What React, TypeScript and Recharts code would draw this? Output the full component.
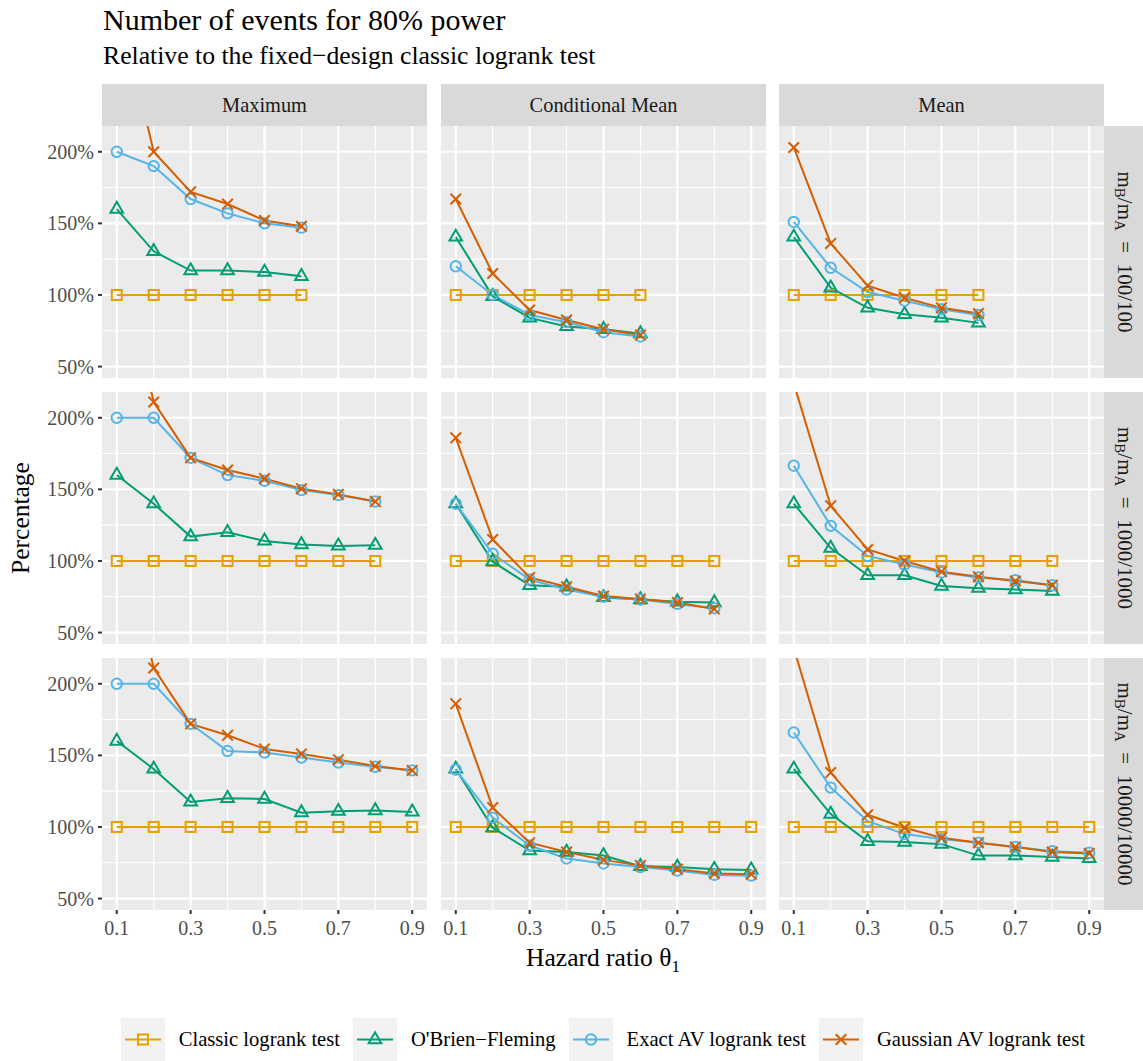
import React from 'react';
import { LineChart, Line, XAxis, YAxis, CartesianGrid } from 'recharts';

// ---------- data ----------
const hazardRatios = [0.1, 0.2, 0.3, 0.4, 0.5, 0.6, 0.7, 0.8, 0.9];
const xTicks = [0.1, 0.3, 0.5, 0.7, 0.9];
const xMinorTicks = [0.2, 0.4, 0.6, 0.8];
const yTicks = [50, 100, 150, 200];
const yMinorTicks = [75, 125, 175];
const columnLabels = ['Maximum', 'Conditional Mean', 'Mean'];
const rowRatios = ['100/100', '1000/1000', '10000/10000'];
const seriesNames = ['Classic logrank test', "O'Brien\u2212Fleming", 'Exact AV logrank test', 'Gaussian AV logrank test'];

// m_B/m_A = 100/100
const max100Classic = [100, 100, 100, 100, 100, 100];
const max100OBF = [160, 130.5, 117, 117, 116, 113];
const max100Exact = [200, 190, 167, 157, 150, 147];
const max100Gauss = [309, 200, 172, 163.5, 152, 148];

const cm100Classic = [100, 100, 100, 100, 100, 100];
const cm100OBF = [140.5, 99, 84, 78, 76, 73];
const cm100Exact = [120, 100, 86, 81, 74, 71];
const cm100Gauss = [167, 115, 89.5, 82.5, 76, 72];

const mean100Classic = [100, 100, 100, 100, 100, 100];
const mean100OBF = [140.5, 105, 91, 86.5, 84, 80.5];
const mean100Exact = [151, 119, 102, 96, 90, 86];
const mean100Gauss = [203, 136, 106.5, 98, 91, 87];

// m_B/m_A = 1000/1000
const max1000Classic = [100, 100, 100, 100, 100, 100, 100, 100];
const max1000OBF = [160, 140, 117, 120, 114, 111.5, 110.5, 111];
const max1000Exact = [200, 200, 172, 160, 156, 149.5, 146, 141.5];
const max1000Gauss = [320, 211, 172, 163.5, 157.5, 150.5, 146.5, 141.5];

const cm1000Classic = [100, 100, 100, 100, 100, 100, 100, 100];
const cm1000OBF = [140, 99.5, 83, 82, 74.5, 73, 71.5, 71];
const cm1000Exact = [140, 105, 87, 80, 75, 73, 70, 67];
const cm1000Gauss = [186, 115, 88.5, 82, 75.5, 73.5, 71, 66.5];

const mean1000Classic = [100, 100, 100, 100, 100, 100, 100, 100];
const mean1000OBF = [140, 109, 90, 90, 82.5, 81, 80, 79];
const mean1000Exact = [166.5, 124.5, 103.5, 97.5, 92, 88.5, 86.5, 83];
const mean1000Gauss = [224, 138.5, 108, 100, 92.5, 89, 86, 83];

// m_B/m_A = 10000/10000
const max10000Classic = [100, 100, 100, 100, 100, 100, 100, 100, 100];
const max10000OBF = [160, 140.5, 117.5, 120, 119.5, 110, 111, 111.5, 110.5];
const max10000Exact = [200, 200, 172, 153, 152, 148.5, 145, 142, 139.5];
const max10000Gauss = [320, 211, 172, 164, 154.5, 151, 147, 142.5, 139.5];

const cm10000Classic = [100, 100, 100, 100, 100, 100, 100, 100, 100];
const cm10000OBF = [140.5, 99.5, 83.5, 82.5, 80, 72.5, 72, 70.5, 70];
const cm10000Exact = [140, 106.5, 87, 78, 74.5, 72, 69.5, 66.5, 66];
const cm10000Gauss = [186, 113.5, 89, 82.5, 77, 73, 70.5, 67.5, 67];

const mean10000Classic = [100, 100, 100, 100, 100, 100, 100, 100, 100];
const mean10000OBF = [140.5, 109, 90, 89.5, 88, 80, 80, 79, 78];
const mean10000Exact = [166, 127.5, 104, 95, 91.5, 89, 86, 83, 82];
const mean10000Gauss = [225, 138, 108.5, 99.5, 92.5, 89, 86, 82.5, 81.5];

const panelSeries = [
  [
    [max100Classic, max100OBF, max100Exact, max100Gauss],
    [cm100Classic, cm100OBF, cm100Exact, cm100Gauss],
    [mean100Classic, mean100OBF, mean100Exact, mean100Gauss],
  ],
  [
    [max1000Classic, max1000OBF, max1000Exact, max1000Gauss],
    [cm1000Classic, cm1000OBF, cm1000Exact, cm1000Gauss],
    [mean1000Classic, mean1000OBF, mean1000Exact, mean1000Gauss],
  ],
  [
    [max10000Classic, max10000OBF, max10000Exact, max10000Gauss],
    [cm10000Classic, cm10000OBF, cm10000Exact, cm10000Gauss],
    [mean10000Classic, mean10000OBF, mean10000Exact, mean10000Gauss],
  ],
];

// ---------- styling ----------
const FONT = "'Liberation Serif', 'Times New Roman', serif";
const SERIES_KEYS = ['classic', 'obf', 'exact', 'gauss'];
const SERIES_COLORS = ['#E69F00', '#009E73', '#56B4E9', '#D55E00'];
const SERIES_SHAPES = ['square', 'triangle', 'circle', 'cross'];
const Y_DOMAIN = [42, 218];
const X_DOMAIN = [0.06, 0.94];
const PANEL_X = [102, 441, 779];
const PANEL_Y = [126, 392, 658];
const PW = 325;
const PH = 252;
const Y_AXIS_W = 60;
const X_AXIS_H = 44;
const STRIP_TOP = 84;
const STRIP_RIGHT_X = 1104;

function marker(kind: string, cx: number, cy: number, color: string, key: string) {
  const sw = 2;
  if (kind === 'square') {
    return <rect key={key} x={cx - 5} y={cy - 5} width={10} height={10} fill="none" stroke={color} strokeWidth={sw} />;
  }
  if (kind === 'triangle') {
    const R = 7.3;
    const hw = R * 0.866;
    return (
      <polygon
        key={key}
        points={`${cx},${cy - R} ${cx - hw},${cy + R / 2} ${cx + hw},${cy + R / 2}`}
        fill="none"
        stroke={color}
        strokeWidth={sw}
      />
    );
  }
  if (kind === 'circle') {
    return <circle key={key} cx={cx} cy={cy} r={5.2} fill="none" stroke={color} strokeWidth={sw} />;
  }
  const h = 5.3;
  return (
    <g key={key}>
      <line x1={cx - h} y1={cy - h} x2={cx + h} y2={cy + h} stroke={color} strokeWidth={sw} />
      <line x1={cx - h} y1={cy + h} x2={cx + h} y2={cy - h} stroke={color} strokeWidth={sw} />
    </g>
  );
}

const makeDot = (kind: string, color: string) => (props: any) => {
  const { cx, cy, value, index } = props;
  const k = `dot-${index}`;
  if (cx == null || cy == null || value == null || value > Y_DOMAIN[1] || value < Y_DOMAIN[0]) {
    return <g key={k} />;
  }
  return marker(kind, cx, cy, color, k);
};

function Panel({ r, c }: { r: number; c: number }) {
  const series = panelSeries[r][c];
  const n = series[0].length;
  const data = hazardRatios.slice(0, n).map((x, i) => {
    const row: any = { x };
    SERIES_KEYS.forEach((k, s) => {
      row[k] = series[s][i];
    });
    return row;
  });
  const showY = c === 0;
  const showX = r === 2;
  const w = PW + (showY ? Y_AXIS_W : 0);
  const h = PH + (showX ? X_AXIS_H : 0);
  const tickStyle = { fill: '#4D4D4D', fontSize: 20, fontFamily: FONT };
  return (
    <div style={{ position: 'absolute', left: PANEL_X[c] - (showY ? Y_AXIS_W : 0), top: PANEL_Y[r], width: w, height: h }}>
      <LineChart width={w} height={h} data={data} margin={{ top: 0, right: 0, bottom: 0, left: 0 }}>
        <CartesianGrid
          fill="#EBEBEB"
          fillOpacity={1}
          stroke="#FFFFFF"
          strokeWidth={1.1}
          horizontalValues={yMinorTicks}
          verticalValues={xMinorTicks}
        />
        <CartesianGrid
          fill="none"
          stroke="#FFFFFF"
          strokeWidth={2.2}
          horizontalValues={yTicks}
          verticalValues={xTicks}
        />
        <XAxis
          dataKey="x"
          type="number"
          domain={X_DOMAIN}
          ticks={xTicks}
          interval={0}
          allowDataOverflow
          hide={!showX}
          height={X_AXIS_H}
          axisLine={false}
          tickSize={4}
          tickMargin={7}
          tick={tickStyle}
          tickLine={{ stroke: '#333333', strokeWidth: 2 }}
          tickFormatter={(v: number) => v.toFixed(1)}
        />
        <YAxis
          type="number"
          domain={Y_DOMAIN}
          ticks={yTicks}
          interval={0}
          allowDataOverflow
          hide={!showY}
          width={Y_AXIS_W}
          axisLine={false}
          tickSize={4}
          tickMargin={4}
          tick={tickStyle}
          tickLine={{ stroke: '#333333', strokeWidth: 2 }}
          tickFormatter={(v: number) => `${v}%`}
        />
        {SERIES_KEYS.map((k, s) => (
          <Line
            key={k}
            dataKey={k}
            name={seriesNames[s]}
            type="linear"
            stroke={SERIES_COLORS[s]}
            strokeWidth={2}
            dot={makeDot(SERIES_SHAPES[s], SERIES_COLORS[s])}
            activeDot={false}
            isAnimationActive={false}
          />
        ))}
      </LineChart>
    </div>
  );
}

function Decorations() {
  return (
    <svg width={1143} height={1061} style={{ position: 'absolute', left: 0, top: 0, fontFamily: FONT }}>
      <rect x={0} y={0} width={1143} height={1061} fill="#FFFFFF" />
      <text x={103} y={30} fontSize={30} fontFamily={FONT} fill="#000000">Number of events for 80% power</text>
      <text x={103} y={64} fontSize={25.7} fontFamily={FONT} fill="#000000">Relative to the fixed{'\u2212'}design classic logrank test</text>
      {columnLabels.map((lab, c) => (
        <g key={lab}>
          <rect x={PANEL_X[c]} y={STRIP_TOP} width={PW} height={PANEL_Y[0] - STRIP_TOP} fill="#D9D9D9" />
          <text
            x={PANEL_X[c] + PW / 2}
            y={(STRIP_TOP + PANEL_Y[0]) / 2}
            textAnchor="middle"
            dominantBaseline="central"
            fontSize={20.4}
            fontFamily={FONT}
            fill="#1A1A1A"
          >
            {lab}
          </text>
        </g>
      ))}
      {rowRatios.map((ratio, r) => {
        const cy = PANEL_Y[r] + PH / 2;
        const cx = 1125;
        return (
          <g key={ratio}>
            <rect x={STRIP_RIGHT_X} y={PANEL_Y[r]} width={1143 - STRIP_RIGHT_X} height={PH} fill="#D9D9D9" />
            <text
              x={cx}
              y={cy}
              transform={`rotate(90 ${cx} ${cy})`}
              textAnchor="middle"
              dominantBaseline="central"
              fontSize={21}
              fontFamily={FONT}
              fill="#1A1A1A"
              style={{ whiteSpace: 'pre' }}
            >
              m<tspan dy={5} fontSize={15}>B</tspan>
              <tspan dy={-5}>/m</tspan>
              <tspan dy={5} fontSize={15}>A</tspan>
              <tspan dy={-5}>{'\u2002=\u2002' + ratio}</tspan>
            </text>
          </g>
        );
      })}
      <text x={20} y={518} transform="rotate(-90 20 518)" textAnchor="middle" dominantBaseline="central" fontSize={25.5} fontFamily={FONT} fill="#000000">
        Percentage
      </text>
      <text x={603} y={966} textAnchor="middle" fontSize={25.5} fontFamily={FONT} fill="#000000">
        Hazard ratio {'\u03B8'}
        <tspan dy={6} fontSize={17}>1</tspan>
      </text>
    </svg>
  );
}

function Legend() {
  return (
    <div
      style={{
        position: 'absolute',
        left: PANEL_X[0],
        top: 1018,
        width: PANEL_X[2] + PW - PANEL_X[0],
        height: 43,
        display: 'flex',
        justifyContent: 'center',
        alignItems: 'center',
        fontFamily: FONT,
        fontSize: 20.6,
        color: '#000000',
      }}
    >
      {seriesNames.map((name, s) => (
        <div key={name} style={{ display: 'flex', alignItems: 'center', marginRight: s < 3 ? 13.3 : 0 }}>
          <svg width={44} height={43} style={{ display: 'block' }}>
            <rect x={0} y={0} width={44} height={43} fill="#F2F2F2" />
            <line x1={4} y1={21.5} x2={40} y2={21.5} stroke={SERIES_COLORS[s]} strokeWidth={2} />
            {marker(SERIES_SHAPES[s], 22, 21.5, SERIES_COLORS[s], 'k')}
          </svg>
          <span style={{ marginLeft: 13.7, whiteSpace: 'nowrap', lineHeight: '43px' }}>{name}</span>
        </div>
      ))}
    </div>
  );
}

export default function App() {
  const panels = [];
  for (let r = 0; r < 3; r++) {
    for (let c = 0; c < 3; c++) {
      panels.push(<Panel key={`${r}-${c}`} r={r} c={c} />);
    }
  }
  return (
    <div style={{ position: 'absolute', left: 0, top: 0, width: 1143, height: 1061, background: '#FFFFFF', overflow: 'hidden' }}>
      <Decorations />
      {panels}
      <Legend />
    </div>
  );
}
